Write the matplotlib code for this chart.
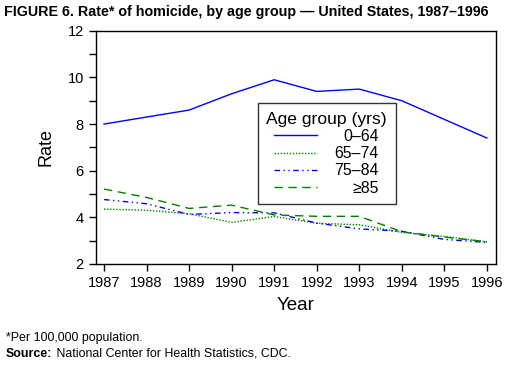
import matplotlib
matplotlib.use("Agg")
import matplotlib.pyplot as plt
from matplotlib.ticker import MultipleLocator

plt.rcParams["font.family"] = ["Liberation Sans", "DejaVu Sans"]

years = [1987, 1988, 1989, 1990, 1991, 1992, 1993, 1994, 1995, 1996]
age_0_64 = [8.0, 8.3, 8.6, 9.3, 9.9, 9.4, 9.5, 9.0, 8.2, 7.4]
age_65_74 = [4.35, 4.3, 4.15, 3.78, 4.03, 3.74, 3.68, 3.35, 3.18, 2.94]
age_75_84 = [4.76, 4.58, 4.12, 4.2, 4.19, 3.75, 3.5, 3.4, 3.05, 2.92]
age_85 = [5.21, 4.85, 4.38, 4.52, 4.1, 4.04, 4.04, 3.38, 3.15, 2.95]
labels = ["0\u201364", "65\u201374", "75\u201384", "\u226585"]

BLUE = "#0000ff"
GREEN = "#008000"

fig = plt.figure(figsize=(5.11, 3.67), dpi=100)
ax = fig.add_axes([0.187, 0.281, 0.784, 0.635])

ax.plot(years, age_0_64, color=BLUE, lw=1.0, label=labels[0])
ax.plot(years, age_65_74, color=GREEN, lw=1.0, dashes=(1, 1.2), label=labels[1])
ax.plot(years, age_75_84, color=BLUE, lw=1.0, dashes=(4, 2.5, 1, 2.5, 1, 2.5), label=labels[2])
ax.plot(years, age_85, color=GREEN, lw=1.0, dashes=(6, 4), label=labels[3])

ax.set_xlim(1986.8, 1996.22)
ax.set_ylim(2, 12)
ax.set_xticks(years)
ax.yaxis.set_major_locator(MultipleLocator(2))
ax.yaxis.set_minor_locator(MultipleLocator(1))
ax.tick_params(axis="both", which="both", direction="out", labelsize=10.5, length=5, width=1)
for s in ax.spines.values():
    s.set_linewidth(1.0)

ax.set_xlabel("Year", fontsize=13.5, labelpad=5)
ax.set_ylabel("Rate", fontsize=13, labelpad=9)

leg = ax.legend(title="Age group (yrs)", loc="upper left", bbox_to_anchor=(0.4045, 0.69),
                borderaxespad=0, fontsize=11.4, title_fontsize=12.6, frameon=True,
                fancybox=False, edgecolor="black", handlelength=2.66, handletextpad=1.14,
                labelspacing=0.14, borderpad=0.55)
leg.get_frame().set_linewidth(1.0)

# right-align the legend labels
fig.canvas.draw()
r = fig.canvas.get_renderer()
widths = [t.get_window_extent(r).width for t in leg.get_texts()]
w = max(widths)
for t, wi in zip(leg.get_texts(), widths):
    t.set_position((w - wi, 0))

fig.text(0.008, 0.966, "FIGURE 6. Rate* of homicide, by age group \u2014 United States, 1987\u20131996",
         fontsize=10.3, fontweight="bold", va="center")
fig.text(0.012, 0.08, "*Per 100,000 population.", fontsize=8.9, va="center")
src = fig.text(0.012, 0.036, "Source:", fontsize=8.9, fontweight="bold", va="center")
fig.canvas.draw()
sw = src.get_window_extent(r).width / fig.bbox.width
fig.text(0.012 + sw, 0.036, " National Center for Health Statistics, CDC.", fontsize=8.9, va="center")

fig.savefig("out.png", dpi=100)
